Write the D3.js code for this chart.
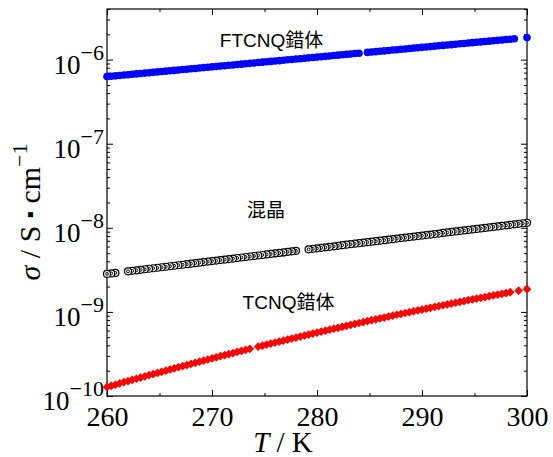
<!DOCTYPE html>
<html>
<head>
<meta charset="utf-8">
<script src="https://cdn.jsdelivr.net/npm/d3@7"></script>
<style>
  body { margin: 0; background: #fff; }
  .label { font-family: "Liberation Sans", "Noto Sans CJK JP", sans-serif; font-size: 19px; fill: #000; }
  .serif { font-family: "Liberation Serif", "Times New Roman", serif; fill: #000; }
</style>
</head>
<body>
<div id="chart"></div>
<script>

// temperature grid (K), shared by all three series
var temps = [
  260.0, 260.4, 260.8, 261.2, 261.6, 262.0, 262.4, 262.8, 263.2, 263.6,
  264.0, 264.4, 264.8, 265.2, 265.6, 266.0, 266.4, 266.8, 267.2, 267.6,
  268.0, 268.4, 268.8, 269.2, 269.6, 270.0, 270.4, 270.8, 271.2, 271.6,
  272.0, 272.4, 272.8, 273.2, 273.6, 274.0, 274.4, 274.8, 275.2, 275.6,
  276.0, 276.4, 276.8, 277.2, 277.6, 278.0, 278.4, 278.8, 279.2, 279.6,
  280.0, 280.4, 280.8, 281.2, 281.6, 282.0, 282.4, 282.8, 283.2, 283.6,
  284.0, 284.4, 284.8, 285.2, 285.6, 286.0, 286.4, 286.8, 287.2, 287.6,
  288.0, 288.4, 288.8, 289.2, 289.6, 290.0, 290.4, 290.8, 291.2, 291.6,
  292.0, 292.4, 292.8, 293.2, 293.6, 294.0, 294.4, 294.8, 295.2, 295.6,
  296.0, 296.4, 296.8, 297.2, 297.6, 298.0, 298.4, 298.8, 299.2, 299.6,
  300.0
];

// log10(sigma / S cm-1), null = no point measured there
var ftcnqLog = [
  -6.202, -6.197, -6.193, -6.188, -6.183, -6.179, -6.174, -6.170, -6.165, -6.160,
  -6.156, -6.151, -6.146, -6.142, -6.137, -6.132, -6.128, -6.123, -6.118, -6.114,
  -6.109, -6.105, -6.100, -6.095, -6.091, -6.086, -6.081, -6.077, -6.072, -6.067,
  -6.063, -6.058, -6.054, -6.049, -6.044, -6.040, -6.035, -6.030, -6.026, -6.021,
  -6.016, -6.012, -6.007, -6.002, -5.998, -5.993, -5.989, -5.984, -5.979, -5.975,
  -5.970, -5.965, -5.961, -5.956, -5.951, -5.947, -5.942, -5.938, -5.933, -5.928,
  -5.924, null,   -5.914, -5.910, -5.905, -5.900, -5.896, -5.891, -5.886, -5.882,
  -5.877, -5.873, -5.868, -5.863, -5.859, -5.854, -5.849, -5.845, -5.840, -5.835,
  -5.831, -5.826, -5.822, -5.817, -5.812, -5.808, -5.803, -5.798, -5.794, -5.789,
  -5.784, -5.780, -5.775, -5.771, -5.766, -5.761, -5.757, -5.752, null,   null,
  -5.738
];

var mixedLog = [
  -8.548, -8.542, -8.536, null,   null,   -8.518, -8.512, -8.505, -8.499, -8.493,
  -8.487, -8.481, -8.475, -8.469, -8.463, -8.457, -8.451, -8.445, -8.439, -8.432,
  -8.426, -8.420, -8.414, -8.408, -8.402, -8.396, -8.390, -8.384, -8.378, -8.372,
  -8.366, -8.359, -8.353, -8.347, -8.341, -8.335, -8.329, -8.323, -8.317, -8.311,
  -8.305, -8.299, -8.293, -8.286, -8.280, -8.274, null,   null,   -8.256, -8.250,
  -8.244, -8.238, -8.232, -8.226, -8.220, -8.214, -8.207, -8.201, -8.195, -8.189,
  -8.183, -8.177, -8.171, -8.165, -8.159, -8.153, -8.147, -8.141, -8.135, -8.128,
  -8.122, -8.116, -8.110, -8.104, -8.098, -8.092, -8.086, -8.080, -8.074, -8.068,
  -8.061, -8.055, -8.049, -8.043, -8.037, -8.031, -8.025, -8.019, -8.013, -8.007,
  -8.001, -7.995, -7.989, -7.983, -7.976, -7.970, -7.964, -7.958, -7.952, -7.946,
  -7.940
];

var tcnqLog = [
  -9.893, -9.879, -9.865, -9.850, -9.836, -9.822, -9.808, -9.795, -9.781, -9.767,
  -9.753, -9.739, -9.726, -9.712, -9.699, -9.685, -9.672, -9.658, -9.645, -9.632,
  -9.618, -9.605, -9.592, -9.579, -9.566, -9.553, -9.540, -9.527, -9.515, -9.502,
  -9.489, -9.476, -9.464, -9.451, -9.439, null,   -9.414, -9.402, -9.389, -9.377,
  -9.365, -9.353, -9.341, -9.329, -9.317, -9.305, -9.293, -9.281, -9.269, -9.258,
  -9.246, -9.234, -9.223, -9.211, -9.200, -9.189, -9.177, -9.166, -9.155, -9.143,
  -9.132, -9.121, -9.110, -9.099, -9.088, -9.077, -9.067, -9.056, -9.045, -9.034,
  -9.024, -9.013, -9.003, -8.992, -8.982, -8.972, -8.961, -8.951, -8.941, -8.931,
  -8.921, -8.911, -8.901, -8.891, -8.881, -8.871, -8.861, -8.852, -8.842, -8.832,
  -8.823, -8.813, -8.804, -8.794, -8.785, -8.776, -8.766, null,   -8.748, null,
  -8.730
];

var xTicks = [260, 270, 280, 290, 300];
var xMinorTicks = [265, 275, 285, 295];
var yExponents = [-10, -9, -8, -7, -6];
var seriesLabels = ["FTCNQ錯体", "混晶", "TCNQ錯体"];

var width = 553, height = 457;
var margin = { left: 107, right: 26, top: 9, bottom: 61 };
var plotW = width - margin.left - margin.right;
var plotH = height - margin.top - margin.bottom;

// turn a log series into point objects, dropping the gaps
function toPoints(logs) {
  var pts = [];
  logs.forEach(function(v, i) {
    if (v !== null) pts.push({ t: temps[i], s: Math.pow(10, v) });
  });
  return pts;
}

var svg = d3.select("#chart").append("svg")
  .attr("width", width)
  .attr("height", height);

var g = svg.append("g")
  .attr("transform", "translate(" + margin.left + "," + margin.top + ")");

var x = d3.scaleLinear().domain([260, 300]).range([0, plotW]);
var y = d3.scaleLog().domain([1e-10, 4e-6]).range([plotH, 0]);

// all log ticks (1..9 x 10^n) inside the domain
var allY = y.ticks();
var majorY = yExponents.map(function(e) { return Math.pow(10, e); });
var minorY = allY.filter(function(v) {
  return Math.abs(Math.log10(v) - Math.round(Math.log10(v))) > 1e-6;
});

function styleAxis(sel) {
  sel.select(".domain").remove();
  sel.selectAll("line").attr("stroke", "#000").attr("stroke-width", 1);
}

// bottom axis, inward ticks
g.append("g")
  .attr("transform", "translate(0," + plotH + ")")
  .attr("font-family", "'Liberation Serif', serif")
  .call(d3.axisBottom(x).tickValues(xTicks).tickSize(-6).tickSizeOuter(0).tickPadding(10))
  .call(styleAxis)
  .selectAll("text")
    .attr("class", "serif")
    .style("font-size", "28px")
    .style("font-family", "'Liberation Serif', serif");

g.append("g")
  .attr("transform", "translate(0," + plotH + ")")
  .call(d3.axisBottom(x).tickValues(xMinorTicks).tickSize(-3).tickSizeOuter(0).tickFormat(""))
  .call(styleAxis);

// top axis (mirror)
g.append("g")
  .call(d3.axisTop(x).tickValues(xTicks).tickSize(-6).tickSizeOuter(0).tickFormat(""))
  .call(styleAxis);
g.append("g")
  .call(d3.axisTop(x).tickValues(xMinorTicks).tickSize(-3).tickSizeOuter(0).tickFormat(""))
  .call(styleAxis);

// left and right axes
g.append("g")
  .call(d3.axisLeft(y).tickValues(majorY).tickSize(-6).tickSizeOuter(0).tickFormat(""))
  .call(styleAxis);
g.append("g")
  .call(d3.axisLeft(y).tickValues(minorY).tickSize(-3).tickSizeOuter(0).tickFormat(""))
  .call(styleAxis);
g.append("g")
  .attr("transform", "translate(" + plotW + ",0)")
  .call(d3.axisRight(y).tickValues(majorY).tickSize(-6).tickSizeOuter(0).tickFormat(""))
  .call(styleAxis);
g.append("g")
  .attr("transform", "translate(" + plotW + ",0)")
  .call(d3.axisRight(y).tickValues(minorY).tickSize(-3).tickSizeOuter(0).tickFormat(""))
  .call(styleAxis);

// y tick labels as 10^n
var yLab = g.append("g").attr("class", "serif");
yExponents.forEach(function(e) {
  var t = yLab.append("text")
    .attr("x", -3)
    .attr("y", y(Math.pow(10, e)) + 14)
    .attr("text-anchor", "end")
    .style("font-size", "27px");
  t.append("tspan").text("10");
  t.append("tspan")
    .attr("dy", -14)
    .style("font-size", "22px")
    .text("\u2212" + Math.abs(e));
});

// plot frame
g.append("rect")
  .attr("width", plotW)
  .attr("height", plotH)
  .attr("fill", "none")
  .attr("stroke", "#000")
  .attr("stroke-width", 1.2);

var plot = g.append("g");

// TCNQ complex: red diamonds
plot.selectAll(".tcnq")
  .data(toPoints(tcnqLog))
  .enter().append("path")
    .attr("class", "tcnq")
    .attr("d", d3.symbol().type(d3.symbolSquare).size(38))
    .attr("transform", function(d) {
      return "translate(" + x(d.t) + "," + y(d.s) + ") rotate(45)";
    })
    .attr("fill", "#ff0000");

// mixed crystal: double open circles, drawn from 300 K down
var mixed = toPoints(mixedLog).reverse();
var mix = plot.selectAll(".mixed")
  .data(mixed)
  .enter().append("g")
    .attr("class", "mixed")
    .attr("transform", function(d) { return "translate(" + x(d.t) + "," + y(d.s) + ")"; });
mix.append("circle").attr("r", 3.5).attr("fill", "#fff").attr("stroke", "#000").attr("stroke-width", 1.2);
mix.append("circle").attr("r", 1.4).attr("fill", "none").attr("stroke", "#000").attr("stroke-width", 1);

// FTCNQ complex: blue filled circles
plot.selectAll(".ftcnq")
  .data(toPoints(ftcnqLog))
  .enter().append("circle")
    .attr("class", "ftcnq")
    .attr("cx", function(d) { return x(d.t); })
    .attr("cy", function(d) { return y(d.s); })
    .attr("r", 3.8)
    .attr("fill", "#0000ff");

// series labels
var labelPos = [ [271.5, 46.5], [266, 217], [288.5, 309] ];
seriesLabels.forEach(function(s, i) {
  svg.append("text")
    .attr("class", "label")
    .attr("x", labelPos[i][0])
    .attr("y", labelPos[i][1])
    .attr("text-anchor", "middle")
    .text(s);
});

// x axis title
var xt = svg.append("text")
  .attr("class", "serif")
  .attr("x", 283)
  .attr("y", 452)
  .attr("text-anchor", "middle")
  .style("font-size", "29px");
xt.append("tspan").style("font-style", "italic").text("T");
xt.append("tspan").text(" / K");

// y axis title
var yt = svg.append("text")
  .attr("class", "serif")
  .attr("transform", "translate(40,212) rotate(-90)")
  .attr("text-anchor", "middle")
  .style("font-size", "30px");
yt.append("tspan").style("font-style", "italic").text("\u03c3");
yt.append("tspan").text(" / S ");
yt.append("tspan").style("font-size", "20px").attr("dy", -3).text("\u25aa");
yt.append("tspan").attr("dy", 3).text(" cm");
yt.append("tspan").attr("dy", -13).style("font-size", "22px").text("\u22121");

</script>
</body>
</html>
